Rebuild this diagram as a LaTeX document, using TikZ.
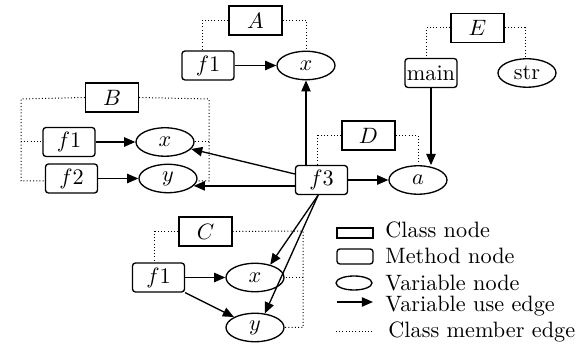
\documentclass[tikz,border=0pt]{standalone}
\usetikzlibrary{arrows.meta,shapes.geometric}
\begin{document}
\begin{tikzpicture}[x=0.45pt,y=-0.45pt,
  classbox/.style={draw,line width=0.6pt,minimum width=23.85pt,minimum height=13pt,inner sep=0pt},
  methodbox/.style={draw,line width=0.6pt,rounded corners=1.3pt,minimum width=23.4pt,minimum height=13pt,inner sep=0pt},
  varnode/.style={draw,ellipse,line width=0.6pt,minimum width=26.1pt,minimum height=12.8pt,inner sep=0pt},
  use/.style={line width=0.6pt,-{Triangle[length=5pt,width=4.2pt]}},
  member/.style={densely dotted,line width=0.45pt},
  legtext/.style={anchor=base west,inner sep=0pt}]
\useasboundingbox (0,0) rectangle (581,348);
% class A
\node[classbox] (A) at (255.5,20.5) {$A$};
\node[methodbox] (f1A) at (208,65.5) {$f1$};
\node[varnode] (xA) at (306,65.5) {$x$};
% class E
\node[classbox] (E) at (477.5,28) {$E$};
\node[methodbox] (main) at (431,73) {main};
\node[varnode] (str) at (527,73) {str};
% class B
\node[classbox] (B) at (112,97.5) {$B$};
\node[methodbox] (f1B) at (69,142) {$f1$};
\node[methodbox] (f2B) at (71.5,178.5) {$f2$};
\node[varnode] (xB) at (165,142) {$x$};
\node[varnode] (yB) at (168,178.5) {$y$};
% class D
\node[classbox] (D) at (368.5,135.5) {$D$};
\node[methodbox] (f3) at (321.5,180) {$f3$};
\node[varnode] (a) at (418,180) {$a$};
% class C
\node[classbox] (C) at (205.5,231.5) {$C$};
\node[methodbox] (f1C) at (158.5,277.5) {$f1$};
\node[varnode] (xC) at (255,277.5) {$x$};
\node[varnode] (yC) at (255,327.5) {$y$};
% corner coordinates
\coordinate (bl1) at (21,99);
\coordinate (bl2) at (21,142);
\coordinate (bl3) at (21,181);
\coordinate (br1) at (209,99);
\coordinate (br2) at (209,142);
\coordinate (br3) at (209,181);
\coordinate (cr1) at (303,231);
\coordinate (cr2) at (303,277.5);
\coordinate (cr3) at (303,327.5);
% member edges
\draw[member] (A.west) -| ([xshift=-2.7pt]f1A.north);
\draw[member] (A.east) -| ([xshift=0.4pt]xA.north);
\draw[member] (E.west) -| ([xshift=-2.2pt]main.north);
\draw[member] (E.east) -| ([xshift=-0.9pt]str.north);
\draw[member] (D.west) -| ([xshift=-1.6pt]f3.north);
\draw[member] (D.east) -| (a.north);
\draw[member] (C.west) -| ([xshift=-1.6pt]f1C.north);
\draw[member] (C.east) -- (cr1) -- (cr3) -- (yC.east);
\draw[member] (cr2) -- (xC.east);
\draw[member] (B.west) -- (bl1) -- (bl3) -- (bl3 -| f2B.west);
\draw[member] (bl2) -- (bl2 -| f1B.west);
\draw[member] (B.east) -- (br1) -- (br3) -- (br3 -| yB.east);
\draw[member] (br2) -- (xB.east);
% use edges
\draw[use] (f1A.east) -- (xA.west);
\draw[use] (f3.north -| xA.south) -- (xA.south);
\draw[use] (main.south) -- (main.south |- a.north);
\draw[use] (f3.east) -- (a.west);
\draw[use] ([yshift=2.7pt]f3.west) -- (xB.-15);
\draw[use] (f3.west |- yB.-16) -- (yB.-16);
\draw[use] (f1B.east) -- (xB.west);
\draw[use] (f2B.east) -- (yB.west);
\draw[use] ([xshift=-1.5pt]f3.south) -- (xC.40);
\draw[use] ([xshift=-1.5pt]f3.south) -- (yC.55);
\draw[use] (f1C.east) -- (xC.west);
\draw[use] (f1C.south east) -- (yC);
% legend
\node[draw,line width=0.6pt,minimum width=16.2pt,minimum height=4.5pt,inner sep=0pt] (lgc) at (355,233) {};
\node[draw,line width=0.6pt,rounded corners=1.3pt,minimum width=16.2pt,minimum height=6.75pt,inner sep=0pt] (lgm) at (355,256.5) {};
\node[draw,ellipse,line width=0.6pt,minimum width=16.2pt,minimum height=6.3pt,inner sep=0pt] (lgv) at (354,283) {};
\coordinate (lga1) at (337,302);
\coordinate (lga2) at (373,302);
\coordinate (lgd1) at (336,332);
\coordinate (lgd2) at (373,332);
\draw[use] (lga1) -- (lga2);
\draw[member] (lgd1) -- (lgd2);
\node[legtext] (t1) at (385,238) {Class node};
\node[legtext] (t2) at (385,264) {Method node};
\node[legtext] (t3) at (385,291) {Variable node};
\node[legtext] (t4) at (385,312) {Variable use edge};
\node[legtext] (t5) at (388,338) {Class member edge};
\end{tikzpicture}
\end{document}
